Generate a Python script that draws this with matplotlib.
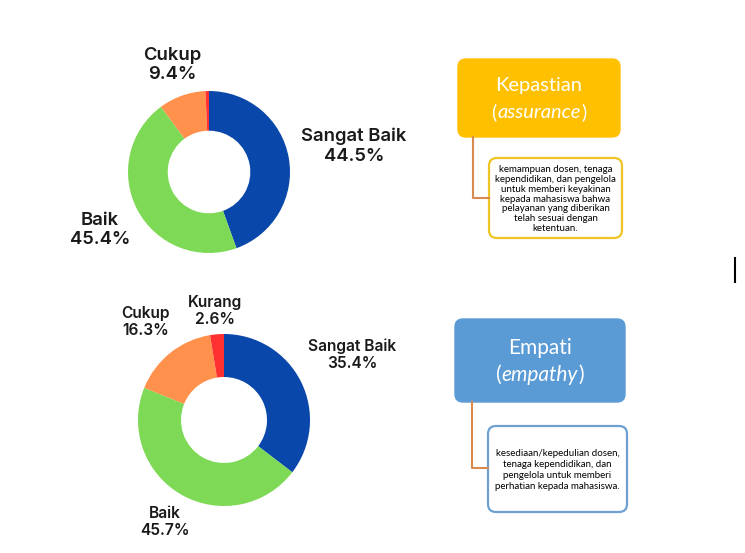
import matplotlib
matplotlib.use("Agg")
import matplotlib.pyplot as plt
from matplotlib.patches import FancyBboxPatch

# ---- data ----
categories = ["Sangat Baik", "Baik", "Cukup", "Kurang"]
assurance_values = [44.5, 45.4, 9.4, 0.7]
empathy_values = [35.4, 45.7, 16.3, 2.6]
colors = ["#0A47AA", "#7ED957", "#FF914D", "#FF3131"]

assurance_title = "Kepastian"
assurance_en = "assurance"
assurance_desc = ("kemampuan dosen, tenaga\nkependidikan, dan pengelola\nuntuk memberi keyakinan\n"
                  "kepada mahasiswa bahwa\npelayanan yang diberikan\ntelah sesuai dengan\nketentuan.")
empathy_title = "Empati"
empathy_en = "empathy"
empathy_desc = ("kesediaan/kepedulian dosen,\ntenaga kependidikan, dan\npengelola untuk memberi\n"
                "perhatian kepada mahasiswa.")

W, H = 745, 553
fig = plt.figure(figsize=(W / 100, H / 100), dpi=100)
fig.patch.set_facecolor("white")

ov = fig.add_axes([0, 0, 1, 1])
ov.set_xlim(0, W)
ov.set_ylim(H, 0)
ov.axis("off")
ov.patch.set_visible(False)


def donut(cx, cy, r, values, ratio):
    ax = fig.add_axes([(cx - r) / W, (H - cy - r) / H, 2 * r / W, 2 * r / H])
    ax.pie(values, colors=colors, startangle=90, counterclock=False, radius=1,
           wedgeprops=dict(width=1 - ratio, edgecolor="none"))
    ax.set_xlim(-1, 1)
    ax.set_ylim(-1, 1)
    ax.set_aspect("equal")
    ax.axis("off")
    return ax


donut(209, 172, 81, assurance_values, 0.51)
donut(224, 420, 86, empathy_values, 0.50)

lab_font = dict(family="Inter", weight="semibold", color="#1a1a1a", ha="center", va="center")

# donut 1 labels
v1 = dict(zip(categories, assurance_values))
ov.text(172, 65, f"Cukup\n{v1['Cukup']}%", fontsize=13.3, linespacing=1.2, **lab_font)
ov.text(354, 146, f"Sangat Baik\n{v1['Sangat Baik']}%", fontsize=13.3, linespacing=1.2, **lab_font)
ov.text(100, 230, f"Baik\n{v1['Baik']}%", fontsize=13.3, linespacing=1.2, **lab_font)

# donut 2 labels
v2 = dict(zip(categories, empathy_values))
ov.text(146, 322, f"Cukup\n{v2['Cukup']}%", fontsize=11.2, linespacing=1.2, **lab_font)
ov.text(215, 311, f"Kurang\n{v2['Kurang']}%", fontsize=11.2, linespacing=1.2, **lab_font)
ov.text(352, 355, f"Sangat Baik\n{v2['Sangat Baik']}%", fontsize=11.2, linespacing=1.2, **lab_font)
ov.text(165, 522, f"Baik\n{v2['Baik']}%", fontsize=11.2, linespacing=1.2, **lab_font)

renderer = fig.canvas.get_renderer()


def title_box(x0, y0, x1, y1, color, title, en, ty1, ty2, fs):
    ov.add_patch(FancyBboxPatch((x0, y0), x1 - x0, y1 - y0,
                                boxstyle="round,pad=0,rounding_size=8",
                                facecolor=color, edgecolor=color, lw=1))
    cx = (x0 + x1) / 2
    ov.text(cx, ty1, title, fontsize=fs, family="Lato", color="white", ha="center", va="center")
    t = ov.text(cx, ty2, en, fontsize=fs, family="Lato", style="italic", color="white",
                ha="center", va="center")
    bb = t.get_window_extent(renderer=renderer)
    ov.text(bb.x0 - 0.5, ty2, "(", fontsize=fs, family="Lato", color="white", ha="right", va="center")
    ov.text(bb.x1 + 0.5, ty2, ")", fontsize=fs, family="Lato", color="white", ha="left", va="center")


def desc_box(x0, y0, x1, y1, edge, text, ls):
    ov.add_patch(FancyBboxPatch((x0, y0), x1 - x0, y1 - y0,
                                boxstyle="round,pad=0,rounding_size=8",
                                facecolor="white", edgecolor=edge, lw=1.6))
    ov.text((x0 + x1) / 2, (y0 + y1) / 2 + 1, text, fontsize=7, family="Lato", color="black",
            ha="center", va="center", linespacing=ls)


conn = "#D98A4E"

title_box(458, 59, 620, 137, "#FFC000", assurance_title, assurance_en, 86, 112, 14.5)
ov.plot([473, 473, 489], [137, 198, 198], color=conn, lw=1.5)
desc_box(489, 158, 622, 238, "#EFC425", assurance_desc, 1.12)

title_box(455, 319, 625, 402, "#5B9BD5", empathy_title, empathy_en, 348, 375, 15)
ov.plot([472, 472, 488], [402, 468, 468], color=conn, lw=1.5)
desc_box(488, 426, 627, 512, "#6FA0D2", empathy_desc, 1.25)

# small vertical mark at right edge
ov.plot([735, 735], [258, 282], color="black", lw=1.5)

fig.savefig("out.png", dpi=100, facecolor="white")
